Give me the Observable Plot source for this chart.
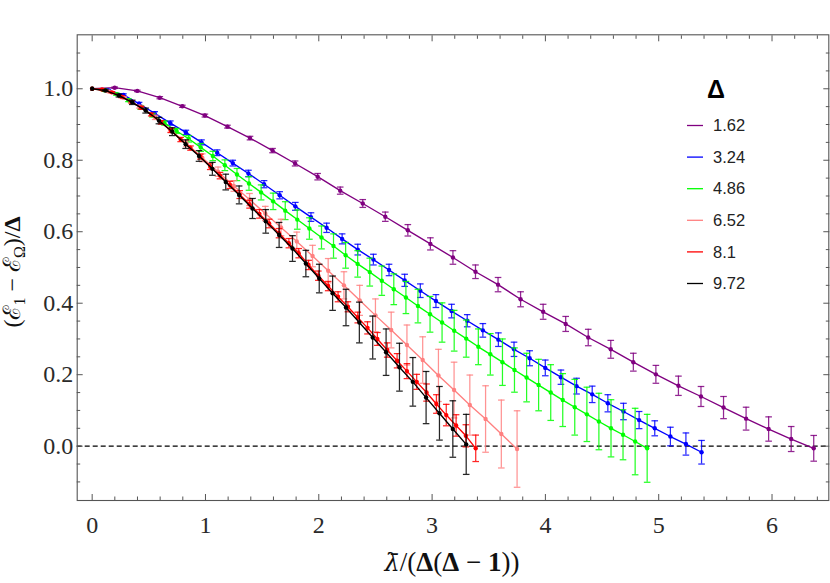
<!DOCTYPE html>
<html><head><meta charset="utf-8">
<script src="https://cdn.jsdelivr.net/npm/d3@7"></script>
<script src="https://cdn.jsdelivr.net/npm/@observablehq/plot@0.6"></script>
<style>body{margin:0;background:#fff} #chart{width:830px;height:583px}</style>
</head><body><div id="chart"></div>
<script>
// Δ values (legend labels) and colours
const deltas = ["1.62", "3.24", "4.86", "6.52", "8.1", "9.72"];
const colors = ["#800080", "#0000ff", "#00ff00", "#ff8080", "#ff0000", "#000000"];

// Δ = 1.62 (purple)
const purpleX = [0,0.199,0.398,0.597,0.796,0.995,1.194,1.393,1.592,1.791,1.990,2.189,2.388,2.587,2.786,2.985,3.184,3.383,3.582,3.781,3.980,4.179,4.378,4.577,4.776,4.975,5.174,5.373,5.572,5.771,5.970,6.169,6.368];
const purpleY = [1.000,1.003,0.994,0.975,0.951,0.925,0.894,0.862,0.827,0.791,0.754,0.715,0.679,0.642,0.604,0.566,0.528,0.488,0.452,0.411,0.376,0.342,0.304,0.271,0.235,0.201,0.169,0.139,0.108,0.077,0.048,0.020,-0.006];
const purpleErr = [0,0.002,0.002,0.003,0.003,0.004,0.004,0.005,0.006,0.007,0.009,0.010,0.011,0.013,0.016,0.017,0.019,0.019,0.020,0.021,0.021,0.021,0.023,0.025,0.025,0.025,0.027,0.028,0.031,0.032,0.034,0.035,0.036];

// Δ = 3.24 (blue)
const blueX = [0,0.138,0.276,0.414,0.552,0.690,0.827,0.965,1.103,1.241,1.379,1.517,1.655,1.793,1.931,2.069,2.206,2.344,2.482,2.620,2.758,2.896,3.034,3.172,3.310,3.448,3.585,3.723,3.861,3.999,4.137,4.275,4.413,4.551,4.689,4.827,4.965,5.103,5.240,5.378];
const blueY = [1.000,0.996,0.983,0.958,0.931,0.904,0.878,0.850,0.821,0.792,0.763,0.733,0.702,0.671,0.641,0.611,0.580,0.550,0.522,0.493,0.464,0.435,0.406,0.378,0.351,0.324,0.298,0.271,0.246,0.219,0.193,0.168,0.145,0.120,0.097,0.073,0.050,0.027,0.006,-0.017];
const blueErr = [0,0.002,0.003,0.004,0.005,0.006,0.006,0.007,0.008,0.008,0.009,0.010,0.010,0.011,0.012,0.013,0.014,0.015,0.015,0.016,0.017,0.019,0.018,0.019,0.017,0.019,0.019,0.020,0.021,0.022,0.020,0.022,0.023,0.024,0.023,0.024,0.021,0.026,0.031,0.033];

// Δ = 4.86 (green)
const greenX = [0,0.107,0.213,0.320,0.426,0.532,0.639,0.745,0.852,0.958,1.065,1.171,1.278,1.384,1.491,1.597,1.704,1.810,1.917,2.024,2.130,2.237,2.343,2.450,2.556,2.662,2.769,2.875,2.982,3.088,3.195,3.301,3.408,3.514,3.621,3.727,3.834,3.940,4.047,4.153,4.259,4.366,4.472,4.579,4.685,4.792,4.898];
const greenY = [1.000,0.996,0.985,0.968,0.948,0.926,0.904,0.882,0.860,0.836,0.812,0.786,0.760,0.735,0.710,0.685,0.659,0.634,0.609,0.584,0.560,0.534,0.510,0.487,0.463,0.439,0.416,0.392,0.369,0.346,0.323,0.301,0.278,0.257,0.235,0.213,0.192,0.171,0.150,0.129,0.109,0.089,0.069,0.050,0.032,0.013,-0.006];
const greenErr = [0,0.003,0.003,0.004,0.005,0.005,0.006,0.007,0.009,0.011,0.013,0.015,0.017,0.019,0.021,0.023,0.025,0.027,0.030,0.032,0.034,0.036,0.037,0.039,0.041,0.043,0.045,0.047,0.050,0.055,0.057,0.052,0.050,0.058,0.065,0.062,0.068,0.072,0.078,0.074,0.078,0.076,0.079,0.080,0.070,0.093,0.095];

// Δ = 6.52 (pink)
const pinkX = [0,0.139,0.278,0.417,0.556,0.694,0.833,0.972,1.111,1.250,1.389,1.528,1.667,1.806,1.945,2.083,2.222,2.361,2.500,2.639,2.778,2.917,3.056,3.194,3.333,3.472,3.611,3.750];
const pinkY = [1.000,0.993,0.975,0.950,0.920,0.884,0.847,0.807,0.768,0.728,0.690,0.651,0.612,0.573,0.532,0.491,0.450,0.408,0.366,0.325,0.283,0.241,0.198,0.157,0.115,0.076,0.034,-0.008];
const pinkErr = [0,0.002,0.003,0.004,0.006,0.007,0.009,0.011,0.013,0.015,0.017,0.020,0.023,0.026,0.030,0.034,0.038,0.042,0.046,0.050,0.056,0.065,0.073,0.078,0.084,0.093,0.095,0.107];

// Δ = 8.1 (red)
const redX = [0,0.087,0.174,0.260,0.347,0.434,0.521,0.608,0.694,0.781,0.868,0.955,1.042,1.128,1.215,1.302,1.389,1.476,1.562,1.649,1.736,1.823,1.910,1.996,2.083,2.170,2.257,2.344,2.430,2.517,2.604,2.691,2.778,2.864,2.951,3.038,3.125,3.212,3.298,3.385];
const redY = [1.000,0.998,0.990,0.978,0.963,0.947,0.928,0.906,0.883,0.858,0.834,0.810,0.782,0.757,0.731,0.704,0.677,0.650,0.623,0.596,0.568,0.540,0.507,0.477,0.448,0.418,0.390,0.360,0.331,0.300,0.269,0.239,0.210,0.180,0.150,0.118,0.087,0.058,0.029,-0.006];
const redErr = [0,0.002,0.002,0.003,0.003,0.004,0.004,0.005,0.005,0.006,0.006,0.007,0.008,0.009,0.010,0.011,0.011,0.012,0.012,0.013,0.013,0.013,0.013,0.013,0.013,0.014,0.014,0.015,0.017,0.018,0.020,0.020,0.021,0.021,0.024,0.026,0.030,0.030,0.031,0.037];

// Δ = 9.72 (black)
const blackX = [0,0.118,0.236,0.354,0.472,0.589,0.707,0.825,0.943,1.061,1.179,1.297,1.415,1.532,1.650,1.768,1.886,2.004,2.122,2.240,2.358,2.476,2.594,2.712,2.830,2.947,3.065,3.183,3.301];
const blackY = [1.000,0.995,0.981,0.962,0.939,0.911,0.880,0.845,0.812,0.776,0.739,0.703,0.665,0.629,0.591,0.553,0.511,0.469,0.428,0.388,0.346,0.304,0.263,0.221,0.180,0.136,0.092,0.048,0.005];
const blackErr = [0,0.002,0.004,0.006,0.007,0.009,0.011,0.012,0.015,0.018,0.022,0.025,0.028,0.033,0.035,0.036,0.037,0.040,0.048,0.051,0.057,0.060,0.065,0.067,0.068,0.073,0.075,0.079,0.084];

// axis ticks
const xMajor = [0, 1, 2, 3, 4, 5, 6];
const xMinor = [0.2,0.4,0.6,0.8,1.2,1.4,1.6,1.8,2.2,2.4,2.6,2.8,3.2,3.4,3.6,3.8,4.2,4.4,4.6,4.8,5.2,5.4,5.6,5.8,6.2,6.4];
const yMajor = [0, 0.2, 0.4, 0.6, 0.8, 1.0];
const yMinor = [-0.1,-0.05,0.05,0.1,0.15,0.25,0.3,0.35,0.45,0.5,0.55,0.65,0.7,0.75,0.85,0.9,0.95,1.05,1.1];

const seriesX = [purpleX, blueX, greenX, pinkX, redX, blackX];
const seriesY = [purpleY, blueY, greenY, pinkY, redY, blackY];
const seriesE = [purpleErr, blueErr, greenErr, pinkErr, redErr, blackErr];

const series = deltas.map((d, i) => ({
  delta: d, color: colors[i],
  rows: seriesX[i].map((x, j) => ({x, y: seriesY[i][j], e: seriesE[i][j]}))
}));

const cap = {draw(ctx, size) { const w = Math.sqrt(size / Math.PI); ctx.moveTo(-w, 0); ctx.lineTo(w, 0); }};
const frameColor = "#555";

const marks = [
  Plot.ruleY([0], {stroke: "#000", strokeWidth: 1.1, strokeDasharray: "5,3"})
];
for (const s of series) {
  const withErr = s.rows.filter(d => d.e > 0);
  marks.push(
    Plot.ruleX(withErr, {x: "x", y1: d => d.y - d.e, y2: d => d.y + d.e, stroke: s.color, strokeWidth: 1.25, strokeOpacity: 0.85}),
    Plot.dot(withErr, {x: "x", y: d => d.y + d.e, symbol: cap, r: 3.3, stroke: s.color, fill: "none", strokeWidth: 1.25, strokeOpacity: 0.85}),
    Plot.dot(withErr, {x: "x", y: d => d.y - d.e, symbol: cap, r: 3.3, stroke: s.color, fill: "none", strokeWidth: 1.25, strokeOpacity: 0.85}),
    Plot.line(s.rows, {x: "x", y: "y", stroke: s.color, strokeWidth: 1.35}),
    Plot.dot(s.rows, {x: "x", y: "y", r: 2.2, fill: s.color, stroke: "none"})
  );
}
marks.push(
  Plot.frame({stroke: frameColor, strokeWidth: 1.1}),
  // labels
  Plot.axisX({anchor: "bottom", ticks: xMajor, tickSize: 0, tickPadding: 15, tickFormat: d3.format("d"), fill: "#2a2a2a", label: null}),
  Plot.axisY({anchor: "left", ticks: yMajor, tickSize: 0, tickPadding: 4, tickFormat: d3.format(".1f"), fill: "#2a2a2a", label: null}),
  // inward ticks on all four sides
  Plot.axisX({anchor: "bottom", ticks: xMajor, tickSize: 6, insetBottom: 6, fill: "none", stroke: frameColor, label: null}),
  Plot.axisX({anchor: "bottom", ticks: xMinor, tickSize: 3.5, insetBottom: 3.5, fill: "none", stroke: frameColor, label: null}),
  Plot.axisX({anchor: "top", ticks: xMajor, tickSize: 6, insetTop: 6, fill: "none", stroke: frameColor, label: null}),
  Plot.axisX({anchor: "top", ticks: xMinor, tickSize: 3.5, insetTop: 3.5, fill: "none", stroke: frameColor, label: null}),
  Plot.axisY({anchor: "left", ticks: yMajor, tickSize: 6, insetLeft: 6, fill: "none", stroke: frameColor, label: null}),
  Plot.axisY({anchor: "left", ticks: yMinor, tickSize: 3.5, insetLeft: 3.5, fill: "none", stroke: frameColor, label: null}),
  Plot.axisY({anchor: "right", ticks: yMajor, tickSize: 6, insetRight: 6, fill: "none", stroke: frameColor, label: null}),
  Plot.axisY({anchor: "right", ticks: yMinor, tickSize: 3.5, insetRight: 3.5, fill: "none", stroke: frameColor, label: null})
);

const svg = Plot.plot({
  width: 830, height: 583,
  marginLeft: 76.7, marginRight: 1.7, marginTop: 34.3, marginBottom: 83,
  x: {domain: [-0.132, 6.501]},
  y: {domain: [-0.152, 1.151]},
  style: {fontFamily: "'Liberation Serif', serif", fontSize: "24px", background: "#fff", overflow: "visible"},
  marks
});
document.getElementById("chart").appendChild(svg);

const root = d3.select(svg);
const serif = "'Liberation Serif', 'DejaVu Serif', serif";

// y-axis title
const yt = root.append("text")
  .attr("transform", "translate(20,272) rotate(-90)")
  .attr("text-anchor", "middle")
  .attr("font-family", serif).attr("font-size", 24).attr("fill", "#111");
yt.append("tspan").text("(ℰ");
yt.append("tspan").attr("font-size", 16).attr("dy", 5).text("1");
yt.append("tspan").attr("dy", -5).text(" − ℰ");
yt.append("tspan").attr("font-size", 16).attr("dy", 5).text("Ω");
yt.append("tspan").attr("dy", -5).text(")/");
yt.append("tspan").attr("font-weight", "bold").text("Δ");

// x-axis title
const xt = root.append("text")
  .attr("x", 452).attr("y", 571)
  .attr("text-anchor", "middle")
  .attr("font-family", serif).attr("font-size", 27).attr("fill", "#111");
xt.append("tspan").attr("font-family", "'DejaVu Serif', serif").attr("font-style", "italic").attr("font-size", 24).text("λ\u0304");
xt.append("tspan").text("/(");
xt.append("tspan").attr("font-weight", "bold").text("Δ");
xt.append("tspan").text("(");
xt.append("tspan").attr("font-weight", "bold").text("Δ");
xt.append("tspan").text(" − ");
xt.append("tspan").attr("font-weight", "bold").text("1");
xt.append("tspan").text("))");

// legend
const sans = "'Liberation Sans', Arial, sans-serif";
root.append("text").attr("x", 716).attr("y", 98).attr("text-anchor", "middle")
  .attr("font-family", sans).attr("font-weight", "bold").attr("font-size", 25).attr("fill", "#000").text("Δ");
const lg = root.append("g");
series.forEach((s, i) => {
  const cy = 125.5 + i * 31.6;
  lg.append("line").attr("x1", 687).attr("x2", 703).attr("y1", cy).attr("y2", cy)
    .attr("stroke", s.color).attr("stroke-width", 1.3);
  lg.append("text").attr("x", 713).attr("y", cy).attr("dy", "0.35em")
    .attr("text-anchor", "start")
    .attr("font-family", sans).attr("font-size", 16.5).attr("fill", "#222").text(s.delta);
});
</script>
</body></html>
